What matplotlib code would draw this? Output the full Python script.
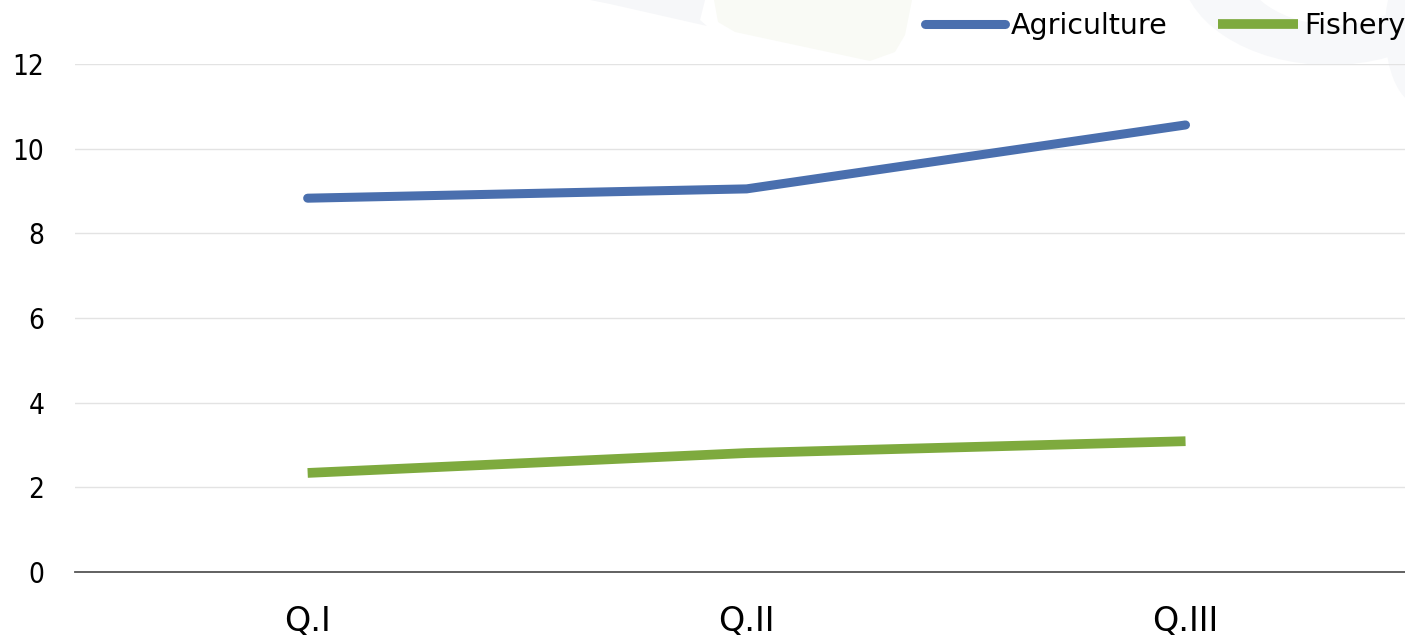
import matplotlib.pyplot as plt
from matplotlib.patches import Polygon, Ellipse

plt.rcParams['font.family'] = ['DejaVu Sans']

quarters = ['Q.I', 'Q.II', 'Q.III']
agriculture = [8.83, 9.05, 10.56]
fishery = [2.34, 2.81, 3.09]
y_ticks = [0, 2, 4, 6, 8, 10, 12]

fig = plt.figure(figsize=(14.05, 6.37), dpi=100)

# faint background decoration along the top edge
deco = fig.add_axes([0, 0, 1, 1], zorder=-1)
deco.set_xlim(0, 1405)
deco.set_ylim(637, 0)
deco.axis('off')
deco.add_patch(Polygon([(590, 0), (705, 0), (700, 20), (707, 26), (610, 4)],
                       closed=True, color='#f6f7f9', lw=0))
deco.add_patch(Polygon([(714, 0), (912, 0), (905, 35), (895, 52), (870, 61),
                        (735, 32), (718, 22)],
                       closed=True, color='#f9faf5', lw=0))
deco.add_patch(Ellipse((1330, -35), 300, 200, color='#f7f8fa', lw=0))
deco.add_patch(Ellipse((1335, -40), 190, 130, color='white', lw=0))
deco.add_patch(Ellipse((1420, 30), 70, 150, color='#f7f8fa', lw=0))

ax = fig.add_axes([75 / 1405, 1 - 572 / 637, 1 - 75 / 1405, (572 - 64) / 637])
ax.patch.set_alpha(0)

x = range(len(quarters))
ax.plot(x, agriculture, color='#4a6fae', lw=6.5, solid_capstyle='round', label='Agriculture')
ax.plot(x, fishery, color='#7eaa3e', lw=7, solid_capstyle='butt', label='Fishery')

ax.set_xlim(-0.53, 2.5)
ax.set_ylim(0, 12)
ax.set_yticks(y_ticks)
ax.set_xticks(list(x))
ax.set_xticklabels(quarters, fontsize=24)
ax.tick_params(axis='y', length=0, pad=22, labelsize=20)
ax.tick_params(axis='x', length=0, pad=24)
for lbl in ax.get_yticklabels():
    lbl.set_fontstretch('condensed')
ax.grid(axis='y', color='#e3e3e3', lw=1)
ax.set_axisbelow(True)
for side in ['top', 'right', 'left']:
    ax.spines[side].set_visible(False)
ax.spines['bottom'].set_color('#555555')
ax.spines['bottom'].set_linewidth(1.3)

ax.legend(loc='center right', bbox_to_anchor=(1.0, 1 + 38 / 508), ncol=2, frameon=False,
          fontsize=20.5, handlelength=2.8, handletextpad=0.2, columnspacing=1.8,
          borderaxespad=0, borderpad=0)

fig.savefig('out.png', dpi=100)
